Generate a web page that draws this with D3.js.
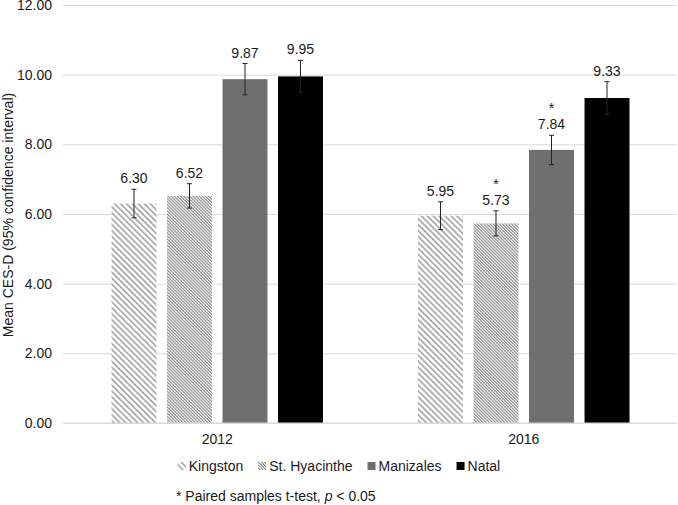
<!DOCTYPE html>
<html>
<head>
<meta charset="utf-8">
<script src="https://cdn.jsdelivr.net/npm/d3@7/dist/d3.min.js"></script>
<style>
  html, body { margin: 0; padding: 0; background: #fff; }
  svg { display: block; font-family: "Liberation Sans", Arial, sans-serif; }
</style>
</head>
<body>
<svg id="chart" width="678" height="505"></svg>
<script>
// ---- data ----
const years = ["2012", "2016"];
const seriesNames = ["Kingston", "St. Hyacinthe", "Manizales", "Natal"];
const kingston     = [6.30, 5.95];
const stHyacinthe  = [6.52, 5.73];
const manizales    = [9.87, 7.84];
const natal        = [9.95, 9.33];
const kingstonCI    = [0.41, 0.40];
const stHyacintheCI = [0.35, 0.36];
const manizalesCI   = [0.45, 0.42];
const natalCI       = [0.46, 0.47];
const kingstonSig    = [false, false];
const stHyacintheSig = [false, true];
const manizalesSig   = [false, true];
const natalSig       = [false, false];
const yTicks = [0, 2, 4, 6, 8, 10, 12];
const yTitle = "Mean CES-D (95% confidence interval)";
const footnote = ["* Paired samples t-test, ", "p", " < 0.05"];

const seriesValues = [kingston, stHyacinthe, manizales, natal];
const seriesCI = [kingstonCI, stHyacintheCI, manizalesCI, natalCI];
const seriesSig = [kingstonSig, stHyacintheSig, manizalesSig, natalSig];

const rows = [];
years.forEach((yr, i) => {
  seriesNames.forEach((s, j) => {
    rows.push({ year: yr, series: s, si: j, value: seriesValues[j][i], ci: seriesCI[j][i], sig: seriesSig[j][i] });
  });
});

// ---- layout ----
const svg = d3.select("#chart");
const textColor = "#1a1a1a";
const font = 14;

const y = d3.scaleLinear().domain([0, 12]).range([423, 5]);
const x0 = d3.scaleBand().domain(years).range([64, 677]).padding(0);
const x1 = d3.scaleBand().domain(seriesNames).range([0, x0.bandwidth()])
  .paddingInner(0.19).paddingOuter(0.856);

// patterns
const defs = svg.append("defs");
function stripePattern(id, period, stripeW, color) {
  const p = defs.append("pattern").attr("id", id)
    .attr("patternUnits", "userSpaceOnUse")
    .attr("width", period).attr("height", period)
    .attr("patternTransform", "rotate(-45)");
  p.append("rect").attr("width", period).attr("height", period).attr("fill", "#fff");
  p.append("rect").attr("x", 0).attr("y", 0).attr("width", stripeW).attr("height", period).attr("fill", color);
}
stripePattern("pKingston", 4.2, 1.8, "#ababab");
stripePattern("pStHy", 2.2, 1.2, "#8f8f8f");
const fills = ["url(#pKingston)", "url(#pStHy)", "#6f6f6f", "#000000"];

// gridlines
const yAxis = d3.axisLeft(y).tickValues(yTicks).tickFormat(d3.format(".2f")).tickSize(-(677 - 63)).tickPadding(11);
const gAxis = svg.append("g").attr("transform", "translate(63,0)").call(yAxis);
gAxis.select(".domain").remove();
gAxis.selectAll(".tick line").attr("stroke", "#d9d9d9").attr("stroke-width", 1);
gAxis.selectAll(".tick text").attr("font-size", font).attr("fill", textColor)
  .attr("font-family", '"Liberation Sans", Arial, sans-serif');

// bars
const g = svg.append("g");
const barG = g.selectAll("g.bar").data(rows).enter().append("g")
  .attr("transform", d => `translate(${x0(d.year) + x1(d.series)},0)`);
barG.append("rect")
  .attr("x", 0).attr("width", x1.bandwidth())
  .attr("y", d => y(d.value)).attr("height", d => y(0) - y(d.value))
  .attr("fill", d => fills[d.si]);

// error bars
const cx = x1.bandwidth() / 2;
const capW = 2.5;
barG.append("line").attr("x1", cx).attr("x2", cx)
  .attr("y1", d => y(d.value + d.ci)).attr("y2", d => y(d.value - d.ci))
  .attr("stroke", "#222").attr("stroke-width", 1);
barG.append("line").attr("x1", cx - capW).attr("x2", cx + capW)
  .attr("y1", d => y(d.value + d.ci)).attr("y2", d => y(d.value + d.ci))
  .attr("stroke", "#222").attr("stroke-width", 1);
barG.append("line").attr("x1", cx - capW).attr("x2", cx + capW)
  .attr("y1", d => y(d.value - d.ci)).attr("y2", d => y(d.value - d.ci))
  .attr("stroke", "#222").attr("stroke-width", 1);

// value labels
barG.append("text").attr("x", cx).attr("y", d => y(d.value + d.ci) - 6)
  .attr("text-anchor", "middle").attr("font-size", font).attr("fill", textColor)
  .text(d => d3.format(".2f")(d.value));
barG.filter(d => d.sig).append("text").attr("x", cx).attr("y", d => y(d.value + d.ci) - 22)
  .attr("text-anchor", "middle").attr("font-size", font).attr("fill", textColor)
  .text("*");

// baseline
svg.append("line").attr("x1", 63).attr("x2", 677).attr("y1", y(0)).attr("y2", y(0))
  .attr("stroke", "#d9d9d9").attr("stroke-width", 1);

// x category labels
svg.selectAll("text.cat").data(years).enter().append("text")
  .attr("x", d => x0(d) + x0.bandwidth() / 2).attr("y", 444)
  .attr("text-anchor", "middle").attr("font-size", font).attr("fill", textColor)
  .text(d => d);

// y title
svg.append("text").attr("transform", "translate(13,215) rotate(-90)")
  .attr("text-anchor", "middle").attr("font-size", font).attr("fill", textColor)
  .text(yTitle);

// legend
const legend = svg.append("g");
const items = legend.selectAll("g").data(seriesNames).enter().append("g");
items.append("rect").attr("width", 8).attr("height", 8).attr("y", -4)
  .attr("fill", (d, i) => fills[i]);
items.append("text").attr("x", 11).attr("y", 5).attr("font-size", font).attr("fill", textColor).text(d => d);
let xpos = 0;
items.each(function () {
  const w = 11 + d3.select(this).select("text").node().getComputedTextLength();
  d3.select(this).attr("transform", `translate(${xpos},0)`);
  xpos += w + 15;
});
const legW = xpos - 15;
legend.attr("transform", `translate(${(678 - legW) / 2},466)`);

// footnote
const fn = svg.append("text").attr("x", 176).attr("y", 501).attr("font-size", font).attr("fill", textColor);
fn.append("tspan").text(footnote[0]);
fn.append("tspan").attr("font-style", "italic").text(footnote[1]);
fn.append("tspan").text(footnote[2]);
</script>
</body>
</html>
